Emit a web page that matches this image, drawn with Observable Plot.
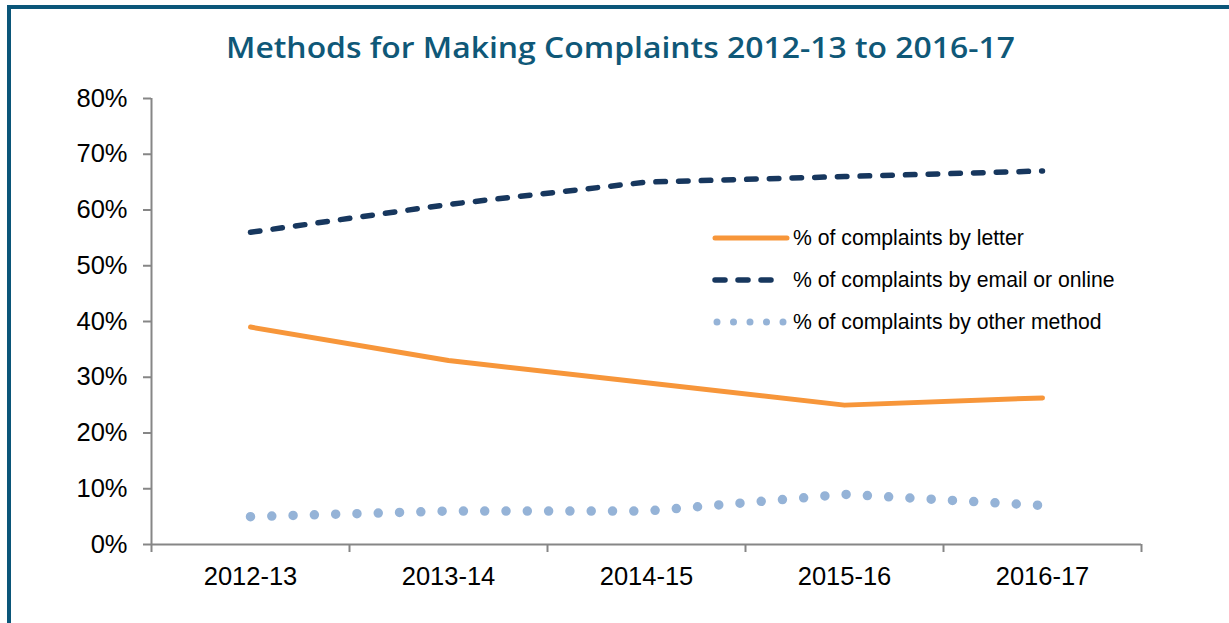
<!DOCTYPE html>
<html>
<head>
<meta charset="utf-8">
<script src="https://cdn.jsdelivr.net/npm/d3@7"></script>
<script src="https://cdn.jsdelivr.net/npm/@observablehq/plot@0.6"></script>
<style>
  html, body { margin: 0; padding: 0; background: #fff; }
  #wrap { position: relative; width: 1229px; height: 623px; overflow: hidden; font-family: "Liberation Sans", Arial, sans-serif; }
  #frame { position: absolute; left: 7px; top: 5px; width: 1240px; height: 640px; border-top: 4px solid #0b5679; border-left: 4px solid #0b5679; box-sizing: border-box; }
  #chart { position: absolute; left: 0; top: 0; }
  #legend { position: absolute; left: 0; top: 0; }
</style>
</head>
<body>
<div id="wrap">
  <div id="frame"></div>
  <div id="chart"></div>
  <svg id="legend" width="1229" height="623"></svg>
</div>
<script>
const titleText = "Methods for Making Complaints 2012-13 to 2016-17";
const categories = ["2012-13", "2013-14", "2014-15", "2015-16", "2016-17"];
const letterPct = [39, 33, 29, 25, 26.3];
const emailPct = [56, 61, 65, 66, 67];
const otherPct = [5, 6, 6, 9, 7];
const seriesNames = ["% of complaints by letter", "% of complaints by email or online", "% of complaints by other method"];
const yTicks = [0, 10, 20, 30, 40, 50, 60, 70, 80];

const styles = [
  {stroke: "#f7963a", strokeWidth: 5, strokeDasharray: null, strokeLinecap: "round"},
  {stroke: "#17375e", strokeWidth: 5.5, strokeDasharray: "9.5 13.2", strokeLinecap: "round"},
  {stroke: "#95b3d7", strokeWidth: 9.5, strokeDasharray: "0 21.3", strokeLinecap: "round"}
];
const values = [letterPct, emailPct, otherPct];

const idx = categories.map((_, i) => i);
const boundaries = d3.range(-0.5, categories.length, 1);

const lineMarks = values.map((vals, s) =>
  Plot.line(idx.map(i => ({i, v: vals[i]})), {
    x: "i", y: "v",
    stroke: styles[s].stroke,
    strokeWidth: styles[s].strokeWidth,
    strokeDasharray: styles[s].strokeDasharray,
    strokeLinecap: styles[s].strokeLinecap,
    strokeLinejoin: "round"
  })
);

const chart = Plot.plot({
  width: 1229,
  height: 623,
  marginLeft: 151,
  marginRight: 88,
  marginTop: 98,
  marginBottom: 79,
  style: {fontFamily: "'Liberation Sans', Arial, sans-serif", background: "transparent", overflow: "visible"},
  x: {type: "linear", domain: [-0.5, categories.length - 0.5]},
  y: {domain: [0, 80]},
  marks: [
    Plot.ruleY([0], {stroke: "#868686", strokeWidth: 2}),
    Plot.ruleX([-0.5], {y1: 0, y2: 80, stroke: "#868686", strokeWidth: 2}),
    Plot.axisY({ticks: yTicks, tickSize: 8, tickPadding: 16, tickFormat: d => d + "%", stroke: "#868686", strokeWidth: 2, strokeOpacity: 1, fontSize: 25.5, fill: "#000", label: null}),
    Plot.axisX({ticks: boundaries, tickSize: 8, tickFormat: () => "", stroke: "#868686", strokeWidth: 2, strokeOpacity: 1, label: null}),
    Plot.axisX({ticks: idx, tickSize: 0, tickPadding: 22, tickFormat: i => categories[i], fontSize: 25.5, fill: "#000", label: null}),
    ...lineMarks
  ]
});
document.getElementById("chart").appendChild(chart);

// Title and legend drawn in the overlay svg
const legend = d3.select("#legend");
legend.append("text")
  .attr("x", 226).attr("y", 58)
  .attr("font-family", "'Open Sans', 'DejaVu Sans', sans-serif")
  .attr("font-weight", 600)
  .attr("font-size", 29.5)
  .attr("textLength", 789)
  .attr("lengthAdjust", "spacingAndGlyphs")
  .attr("fill", "#0f5878")
  .text(titleText);

const legendX0 = 715, legendX1 = 787, legendY0 = 238, legendDy = 42;
seriesNames.forEach((name, s) => {
  const y = legendY0 + s * legendDy;
  const st = styles[s];
  legend.append("line")
    .attr("x1", legendX0 + (s === 2 ? 2 : 0)).attr("x2", legendX1 - (s === 1 ? 8 : 0))
    .attr("y1", y).attr("y2", y)
    .attr("stroke", st.stroke)
    .attr("stroke-width", s === 2 ? 7 : st.strokeWidth)
    .attr("stroke-linecap", st.strokeLinecap)
    .attr("stroke-dasharray", s === 2 ? "0 16.5" : (s === 1 ? "10 13" : null));
  legend.append("text")
    .attr("x", 793).attr("y", y)
    .attr("dy", "0.35em")
    .attr("font-size", 21.2)
    .attr("font-family", "'Liberation Sans', Arial, sans-serif")
    .attr("fill", "#000")
    .text(name);
});
</script>
</body>
</html>
